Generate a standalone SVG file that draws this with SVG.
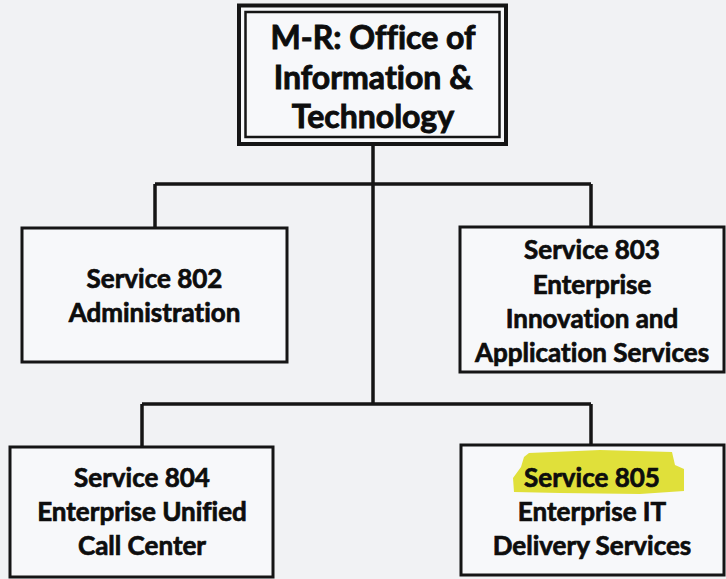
<svg xmlns="http://www.w3.org/2000/svg" width="726" height="579" viewBox="0 0 726 579">
<style>
.box{fill:#f7f8fa;stroke:#151515;stroke-width:3}
.ln{fill:none;stroke:#151515;stroke-width:3.5}
text{font-family:Lato,"Open Sans","DejaVu Sans",sans-serif;font-weight:bold;fill:#0d0d0d;stroke:#0d0d0d;text-anchor:middle;font-variant-ligatures:none}
.t1{font-size:32px;stroke-width:0.9}
.t2{font-size:26px;stroke-width:0.7}
</style>
<rect x="0" y="0" width="726" height="579" fill="#f1f2f4"/>
<g id="connectors">
<path class="ln" d="M373,143 V404"/>
<path class="ln" d="M155,184 H591"/>
<path class="ln" d="M155,184 V228"/>
<path class="ln" d="M591,184 V227"/>
<path class="ln" d="M142,404 H591"/>
<path class="ln" d="M142,404 V447"/>
<path class="ln" d="M591,404 V445"/>
</g>
<g id="office">
<rect x="239" y="5.5" width="267" height="138.5" fill="#f7f8fa" stroke="#151515" stroke-width="4"/>
<rect x="245.5" y="12" width="254" height="125" fill="none" stroke="#151515" stroke-width="2.5"/>
<text class="t1" x="373" y="49">M-R: Office of</text>
<text class="t1" x="373" y="89">Information &amp;</text>
<text class="t1" x="373" y="128">Technology</text>
</g>
<g id="s802">
<rect class="box" x="22" y="228" width="265" height="134"/>
<text class="t2" x="154.5" y="288">Service 802</text>
<text class="t2" x="154.5" y="322">Administration</text>
</g>
<g id="s803">
<rect class="box" x="460" y="227" width="264" height="145"/>
<text class="t2" x="592" y="259">Service 803</text>
<text class="t2" x="592" y="294">Enterprise</text>
<text class="t2" x="592" y="328">Innovation and</text>
<text class="t2" x="592" y="362">Application Services</text>
</g>
<g id="s804">
<rect class="box" x="10" y="447" width="263" height="130"/>
<text class="t2" x="142" y="487">Service 804</text>
<text class="t2" x="142" y="521">Enterprise Unified</text>
<text class="t2" x="142" y="555">Call Center</text>
</g>
<g id="s805">
<rect class="box" x="461" y="445" width="263" height="130"/>
<path d="M529,453 L600,450 L672,452 L675,465 L684,469 L684,491 L640,494 L560,493 L514,492 L513,478 L521,467 L524,457 Z" fill="#e0e03a"/>
<text class="t2" x="592" y="487">Service 805</text>
<text class="t2" x="592" y="521">Enterprise IT</text>
<text class="t2" x="592" y="555">Delivery Services</text>
</g>
</svg>
